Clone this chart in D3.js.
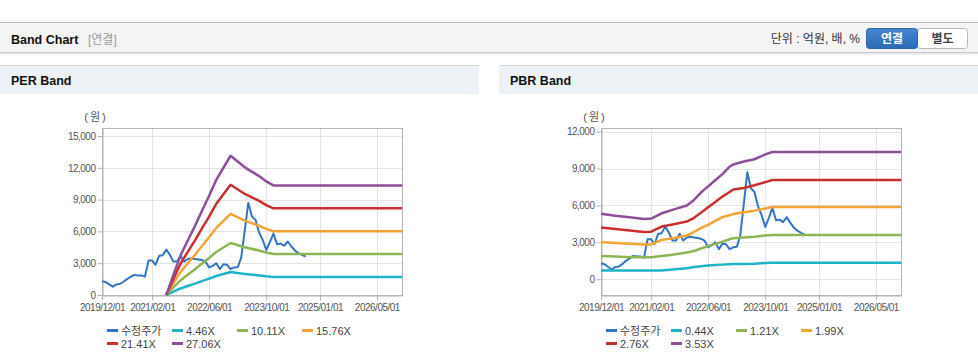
<!DOCTYPE html>
<html>
<head>
<meta charset="utf-8">
<script src="https://cdn.jsdelivr.net/npm/d3@7"></script>
<style>
  body { margin: 0; background: #fff; }
  svg { display: block; font-family: "Liberation Sans", Arial, "Noto Sans CJK KR", sans-serif; }
</style>
</head>
<body>
<svg id="chart" width="978" height="364"></svg>
<script>
// ---- data ----
const xTickDates = ["2019-12-01", "2021-02-01", "2022-06-01", "2023-10-01", "2025-01-01", "2026-05-01"];
const xDomainDates = ["2019-12-01", "2026-12-01"];

// adjusted price, monthly from 2019-12
const priceStart = "2019-12-01";
const price = [1300, 1220, 1000, 790, 1000, 1040, 1250, 1500, 1700, 1900, 1850, 1850, 1750,
  3250, 3250, 2850, 3700, 3750, 4300, 3800, 3150, 3150, 3700, 3150, 3400, 3450, 3400, 3350,
  3300, 3150, 2600, 2750, 3000, 2450, 2900, 2850, 2450, 2600, 2650, 3500, 6100, 8700, 7400,
  7100, 5900, 5200, 4250, 5000, 5800, 4800, 4850, 4650, 5050, 4600, 4200, 3950, 3780, 3620];

// PER band
const perNames = ["4.46X", "10.11X", "15.76X", "21.41X", "27.06X"];
const perDates = ["2021-06-01", "2021-08-01", "2021-10-01", "2021-12-01", "2022-02-01", "2022-04-01",
  "2022-06-01", "2022-08-01", "2022-10-01", "2022-12-01", "2023-04-01", "2023-08-01", "2023-10-01",
  "2023-12-01", "2026-12-01"];
const per446 = [0, 317, 618, 847, 1075, 1309, 1543, 1792, 1979, 2166, 1986, 1850, 1767, 1704, 1704];
const per1011 = [0, 719, 1401, 1920, 2438, 2967, 3497, 4062, 4487, 4910, 4502, 4193, 4005, 3863, 3863];
const per1576 = [0, 1121, 2184, 2993, 3800, 4626, 5451, 6332, 6994, 7655, 7018, 6536, 6243, 6022, 6022];
const per2141 = [0, 1522, 2967, 4066, 5162, 6284, 7406, 8603, 9502, 10399, 9534, 8879, 8480, 8181, 8181];
const per2706 = [0, 1923, 3750, 5138, 6525, 7943, 9360, 10874, 12009, 13144, 12050, 11221, 10717, 10339, 10339];
const perYTicks = [0, 3000, 6000, 9000, 12000, 15000];

// PBR band
const pbrNames = ["0.44X", "1.21X", "1.99X", "2.76X", "3.53X"];
const pbrDates = ["2019-12-01", "2020-04-01", "2020-08-01", "2020-12-01", "2021-02-01", "2021-05-01",
  "2021-08-01", "2021-12-01", "2022-02-01", "2022-04-01", "2022-06-01", "2022-08-01", "2022-10-01",
  "2022-12-01", "2023-01-01", "2023-04-01", "2023-07-01", "2023-10-01", "2023-12-01", "2026-12-01"];
const pbr044 = [705, 705, 705, 705, 705, 720, 790, 900, 1000, 1060, 1110, 1150, 1190, 1230, 1245, 1250, 1260, 1320, 1350, 1350];
const pbr121 = [1897, 1860, 1800, 1790, 1790, 1897, 1990, 2170, 2300, 2500, 2700, 2880, 3060, 3250, 3330, 3400, 3460, 3560, 3600, 3600];
const pbr199 = [3035, 2950, 2880, 2820, 2830, 3198, 3330, 3550, 3850, 4150, 4420, 4750, 5050, 5200, 5300, 5450, 5580, 5760, 5880, 5880];
const pbr276 = [4200, 4080, 3960, 3850, 3870, 4282, 4450, 4690, 5000, 5400, 5850, 6280, 6720, 7100, 7300, 7420, 7640, 7900, 8076, 8076];
const pbr353 = [5330, 5170, 5040, 4905, 4940, 5366, 5640, 6000, 6450, 7050, 7550, 8050, 8550, 9150, 9330, 9580, 9760, 10150, 10352, 10352];
const pbrYTicks = [0, 3000, 6000, 9000, 12000];

const priceName = "수정주가";
const colors = ["#3474c4", "#1fb3c6", "#8db655", "#f2a535", "#c8302f", "#8c4f98"];

// ---- layout ----
const svg = d3.select("#chart");
const parse = d3.timeParse("%Y-%m-%d");

// top header
svg.append("rect").attr("x", 0).attr("y", 22).attr("width", 978).attr("height", 30).attr("fill", "#f4f4f4");
svg.append("line").attr("x1", 0).attr("x2", 978).attr("y1", 22.5).attr("y2", 22.5).attr("stroke", "#b8b8b8");
svg.append("line").attr("x1", 0).attr("x2", 978).attr("y1", 52.5).attr("y2", 52.5).attr("stroke", "#cacaca");
svg.append("line").attr("x1", 0).attr("x2", 978).attr("y1", 53.5).attr("y2", 53.5).attr("stroke", "#e6e6e6");
svg.append("line").attr("x1", 0).attr("x2", 978).attr("y1", 54.5).attr("y2", 54.5).attr("stroke", "#f4f4f4");

svg.append("text").attr("x", 11).attr("y", 43.5)
  .style("font-size", "12.5px").style("font-weight", "bold").attr("fill", "#111")
  .text("Band Chart");
svg.append("text").attr("x", 88).attr("y", 43.5)
  .style("font-size", "12px").attr("fill", "#999")
  .text("[연결]");
svg.append("text").attr("x", 860).attr("y", 43)
  .attr("text-anchor", "end").style("font-size", "12px").attr("fill", "#333")
  .text("단위 : 억원, 배, %");

const grad = svg.append("defs").append("linearGradient").attr("id", "btn").attr("x1", 0).attr("x2", 0).attr("y1", 0).attr("y2", 1);
grad.append("stop").attr("offset", "0%").attr("stop-color", "#4686d2");
grad.append("stop").attr("offset", "100%").attr("stop-color", "#2c6bb5");

svg.append("rect").attr("x", 917.5).attr("y", 28.5).attr("width", 50).attr("height", 20).attr("rx", 3)
  .attr("fill", "#fff").attr("stroke", "#b9b9b9");
svg.append("rect").attr("x", 866.5).attr("y", 28.5).attr("width", 51).attr("height", 20).attr("rx", 3)
  .attr("fill", "url(#btn)").attr("stroke", "#2c66ad");
svg.append("text").attr("x", 892).attr("y", 42.5).attr("text-anchor", "middle")
  .style("font-size", "12px").style("font-weight", "bold").attr("fill", "#fff").text("연결");
svg.append("text").attr("x", 942.5).attr("y", 42.5).attr("text-anchor", "middle")
  .style("font-size", "12px").style("font-weight", "bold").attr("fill", "#444").text("별도");

// panel headers
[[0, 479, "PER Band"], [499, 978, "PBR Band"]].forEach(([x0, x1, title]) => {
  svg.append("rect").attr("x", x0).attr("y", 65).attr("width", x1 - x0).attr("height", 29).attr("fill", "#eef2f7");
  svg.append("line").attr("x1", x0).attr("x2", x1).attr("y1", 65.5).attr("y2", 65.5).attr("stroke", "#d6d6d6");
  svg.append("text").attr("x", x0 + 11).attr("y", 84.5)
    .style("font-size", "12.5px").style("font-weight", "bold").attr("fill", "#111").text(title);
});

// ---- band chart ----
function drawBand(cfg) {
  const g = svg.append("g");
  const x = d3.scaleTime().domain(xDomainDates.map(parse)).range([cfg.left, cfg.right]);
  const y = d3.scaleLinear().domain(cfg.yDomain).range([cfg.bottom, cfg.top]);
  const xTicks = xTickDates.map(parse);

  // grid
  g.selectAll(".vg").data(xTicks).join("line")
    .attr("x1", d => Math.round(x(d)) + 0.5).attr("x2", d => Math.round(x(d)) + 0.5)
    .attr("y1", cfg.top).attr("y2", cfg.bottom)
    .attr("stroke", "#e4e4e4");
  g.selectAll(".hg").data(cfg.yTicks).join("line")
    .attr("x1", cfg.left).attr("x2", cfg.right)
    .attr("y1", d => Math.round(y(d)) + 0.5).attr("y2", d => Math.round(y(d)) + 0.5)
    .attr("stroke", "#e4e4e4");

  // frame
  g.append("rect")
    .attr("x", cfg.left + 0.5).attr("y", cfg.top + 0.5)
    .attr("width", cfg.right - cfg.left).attr("height", cfg.bottom - cfg.top)
    .attr("fill", "none").attr("stroke", "#b4b4b4");

  // axes
  const yAxis = g.append("g")
    .attr("transform", `translate(${cfg.left + 0.5},0)`)
    .call(d3.axisLeft(y).tickValues(cfg.yTicks).tickFormat(d3.format(",")).tickSize(5).tickPadding(2).tickSizeOuter(0));
  const xAxis = g.append("g")
    .attr("transform", `translate(0,${cfg.bottom + 0.5})`)
    .call(d3.axisBottom(x).tickValues(xTicks).tickFormat(d3.timeFormat("%Y/%m/%d")).tickSize(5).tickPadding(3).tickSizeOuter(0));
  [yAxis, xAxis].forEach(a => {
    a.select(".domain").attr("stroke", "#b4b4b4");
    a.selectAll(".tick line").attr("stroke", "#b4b4b4");
    a.selectAll(".tick text")
      .attr("fill", "#555")
      .style("font-size", "10px")
      .style("letter-spacing", "-0.5px")
      .style("font-family", "'Liberation Sans', Arial, sans-serif");
  });

  // unit label
  g.append("text").attr("x", cfg.left - 6).attr("y", 121)
    .attr("text-anchor", "middle").style("font-size", "11px").style("letter-spacing", "2px")
    .attr("fill", "#555").text("(원)");

  // series
  const line = d3.line().x(d => x(d.date)).y(d => y(d.value));
  const priceData = price.map((v, i) => ({ date: d3.timeMonth.offset(parse(priceStart), i), value: v }));
  g.append("path").datum(priceData)
    .attr("d", line).attr("fill", "none")
    .attr("stroke", colors[0]).attr("stroke-width", 2).attr("stroke-linejoin", "round");

  cfg.bands.forEach((vals, k) => {
    const data = vals.map((v, i) => ({ date: parse(cfg.dates[i]), value: v }));
    g.append("path").datum(data)
      .attr("d", line).attr("fill", "none")
      .attr("stroke", colors[k + 1]).attr("stroke-width", 2.5).attr("stroke-linejoin", "round");
  });

  // legend
  const names = [priceName].concat(cfg.names);
  const items = g.selectAll(".lg").data(names).join("g")
    .attr("transform", (d, i) => `translate(${cfg.left + 5 + (i % 4) * 65},${i < 4 ? 330.5 : 343.5})`);
  items.append("line").attr("x1", 0).attr("x2", 11).attr("y1", 0).attr("y2", 0)
    .attr("stroke", (d, i) => colors[i]).attr("stroke-width", 3);
  items.append("text").attr("x", 14).attr("y", 4)
    .style("font-size", "11px").attr("fill", "#444").text(d => d);
}

drawBand({
  left: 102, right: 402, top: 128, bottom: 295,
  yDomain: [0, 15760], yTicks: perYTicks,
  dates: perDates, bands: [per446, per1011, per1576, per2141, per2706], names: perNames
});
drawBand({
  left: 601, right: 901, top: 128, bottom: 295,
  yDomain: [-1280, 12300], yTicks: pbrYTicks,
  dates: pbrDates, bands: [pbr044, pbr121, pbr199, pbr276, pbr353], names: pbrNames
});
</script>
</body>
</html>
